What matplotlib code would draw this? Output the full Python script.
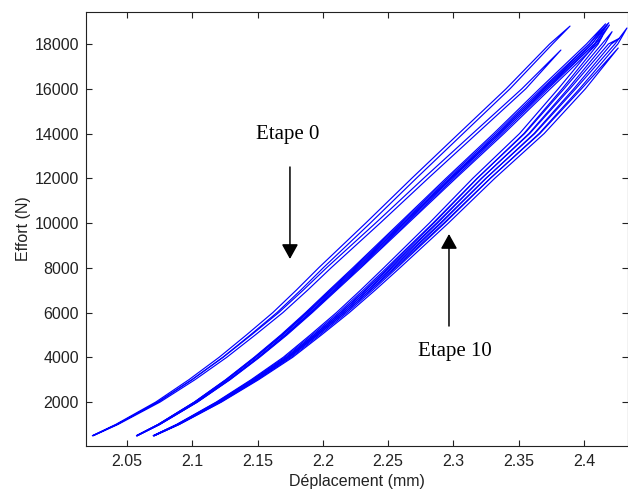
import matplotlib.pyplot as plt
import numpy as np

# --- data ---

# force levels (N) at which the centre of each bundle of loops was read
force = np.array([500, 1000, 2000, 3000, 4000, 5000, 6000, 7000, 8000,
                  10000, 12000, 14000, 16000, 18000])

# displacement (mm) of each bundle's centre line at those forces
disp_a = np.array([2.0240, 2.0423, 2.0737, 2.0998, 2.1235, 2.1449, 2.1656, 2.1840, 2.2016,
                   2.2384, 2.2744, 2.3111, 2.3479, 2.3816])
disp_b = np.array([2.0577, 2.0745, 2.1028, 2.1273, 2.1495, 2.1702, 2.1894, 2.2077, 2.2261,
                   2.2621, 2.2981, 2.3348, 2.3701, 2.4060])
disp_c = np.array([2.0707, 2.0891, 2.1204, 2.1480, 2.1733, 2.1947, 2.2154, 2.2345, 2.2529,
                   2.2889, 2.3233, 2.3601, 2.3907, 2.4198])

# opening of a loop (loading vs unloading gap, mm) at those forces
loop_open = np.array([0.0005, 0.001, 0.0018, 0.0024, 0.0028, 0.003, 0.0032, 0.0034, 0.0035,
                      0.0035, 0.0035, 0.0033, 0.003, 0.0022])

# one entry per load cycle
loop_group = ["a", "a", "b", "b", "b", "b", "c", "c", "c", "c", "c"]
loop_shift = [-0.0068, 0.0068, -0.003, -0.001, 0.001, 0.003, -0.010, -0.005, 0.0, 0.005, 0.010]
loop_peak_disp = [2.3893, 2.3823, 2.4165, 2.4180, 2.4190, 2.4195, 2.4140, 2.4215, 2.4275, 2.4329, 2.4262]
loop_peak_force = [18800, 17730, 18900, 18894, 18950, 18850, 18350, 18550, 18268, 18715, 17821]

groups = {"a": disp_a, "b": disp_b, "c": disp_c}

# --- figure ---

plt.rcParams["font.family"] = ["Liberation Sans", "DejaVu Sans"]

fig = plt.figure(figsize=(6.28, 4.93), dpi=100)
ax = fig.add_axes([86 / 628, 1 - 446 / 493, 542 / 628, 434 / 493])

for g, shift, pd, pf in zip(loop_group, loop_shift, loop_peak_disp, loop_peak_force):
    d = groups[g]
    keep = force < pf
    f = force[keep]
    base = d[keep] + shift * f / 18000
    w = loop_open[keep] / 2
    x = np.concatenate([base + w, [pd], (base - w)[::-1]])
    y = np.concatenate([f, [pf], f[::-1]])
    ax.plot(x, y, color="#0000ff", lw=0.85)

ax.set_xlim(2.0186, 2.4337)
ax.set_ylim(35, 19430)
ax.set_xticks([2.05, 2.1, 2.15, 2.2, 2.25, 2.3, 2.35, 2.4])
ax.set_xticklabels(["2.05", "2.1", "2.15", "2.2", "2.25", "2.3", "2.35", "2.4"])
ax.set_yticks(np.arange(2000, 18001, 2000))
ax.tick_params(direction="in", length=4, width=0.8, labelsize=11.5,
               colors="#222222", top=True, right=True)
ax.tick_params(axis="x", pad=6)
ax.tick_params(axis="y", pad=5)
for s in ax.spines.values():
    s.set_linewidth(0.8)
    s.set_color("#222222")

ax.set_xlabel("Déplacement (mm)", fontsize=11.5, color="#222222")
ax.set_ylabel("Effort (N)", fontsize=11.5, color="#222222")
ax.xaxis.set_label_coords(0.5, -0.065)
ax.yaxis.set_label_coords(-0.102, 0.5)

# annotations
arrow = dict(arrowstyle="-|>,head_length=0.9,head_width=0.5",
             color="black", lw=1.1, shrinkA=0, shrinkB=0)
ax.text(2.1733, 13950, "Etape 0", family="Liberation Serif", fontsize=15,
        ha="center", va="center")
ax.annotate("", xy=(2.1748, 8392), xytext=(2.1748, 12503), arrowprops=arrow)
ax.text(2.3011, 4280, "Etape 10", family="Liberation Serif", fontsize=15,
        ha="center", va="center")
ax.annotate("", xy=(2.2966, 9509), xytext=(2.2966, 5397), arrowprops=arrow)

fig.savefig("out.png", dpi=100)
